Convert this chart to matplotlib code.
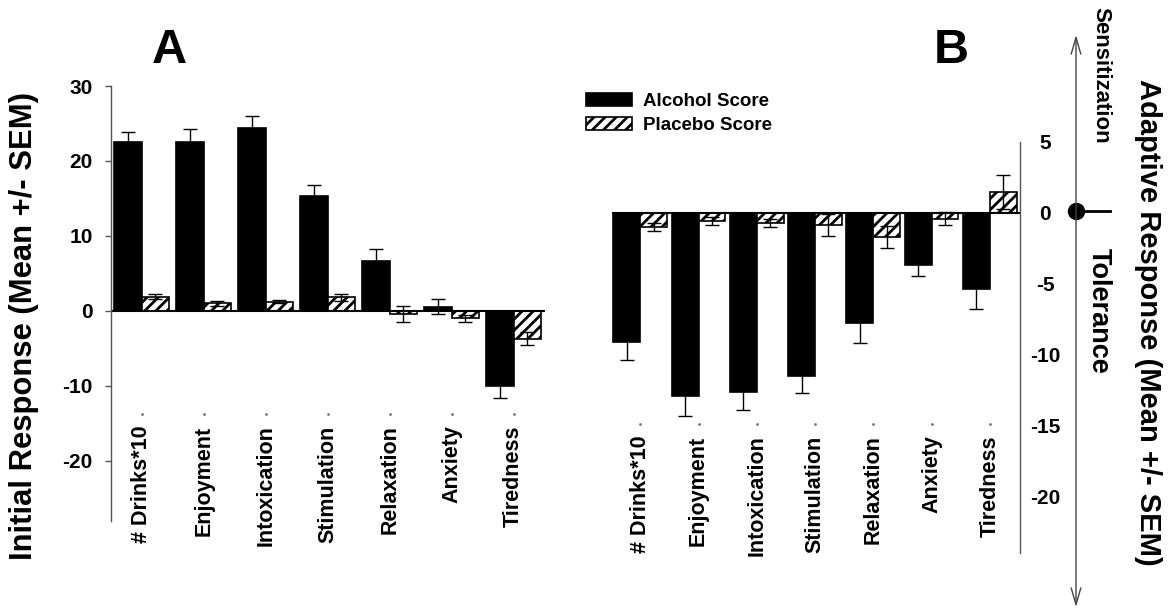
import numpy as np
import matplotlib as mpl
mpl.use('Agg')
import matplotlib.pyplot as plt

plt.rcParams['font.family'] = ['Liberation Sans', 'DejaVu Sans']
plt.rcParams['font.weight'] = 'bold'
plt.rcParams['hatch.linewidth'] = 2.0
plt.rcParams['axes.unicode_minus'] = False

categories = ['# Drinks*10', 'Enjoyment', 'Intoxication', 'Stimulation',
              'Relaxation', 'Anxiety', 'Tiredness']

# panel A - initial response
init_alcohol = [22.5, 22.5, 24.4, 15.3, 6.7, 0.55, -10.0]
init_alcohol_sem = [1.4, 1.8, 1.6, 1.5, 1.6, 1.0, 1.6]
init_placebo = [1.9, 1.0, 1.2, 1.8, -0.4, -1.0, -3.7]
init_placebo_sem = [0.3, 0.3, 0.2, 0.5, 1.1, 0.5, 0.9]

# panel B - adaptive response
adapt_alcohol = [-9.1, -12.9, -12.6, -11.5, -7.8, -3.7, -5.35]
adapt_alcohol_sem = [1.25, 1.4, 1.3, 1.2, 1.35, 0.75, 1.45]
adapt_placebo = [-1.0, -0.57, -0.7, -0.85, -1.7, -0.42, 1.48]
adapt_placebo_sem = [0.3, 0.28, 0.28, 0.77, 0.77, 0.46, 1.2]

a_ticks = [30, 20, 10, 0, -10, -20]
b_ticks = [5, 0, -5, -10, -15, -20]


def draw_panel(ax, alc, alc_err, plc, plc_err, width, dot_y, label_y):
    x = np.arange(len(categories))
    b1 = ax.bar(x - width / 2, alc, width, color='black', edgecolor='black',
                lw=1.2, label='Alcohol Score', zorder=2)
    b2 = ax.bar(x + width / 2, plc, width, color='white', edgecolor='black',
                hatch='///', lw=1.2, label='Placebo Score', zorder=2)
    ax.errorbar(x - width / 2, alc, yerr=alc_err, fmt='none', ecolor='black',
                elinewidth=1, capsize=5, capthick=1, zorder=3)
    ax.errorbar(x + width / 2, plc, yerr=plc_err, fmt='none', ecolor='black',
                elinewidth=1, capsize=5, capthick=1, zorder=3)
    ax.axhline(0, color='black', lw=1.5, zorder=2.5)
    ax.plot(x, [dot_y] * len(x), ls='none', marker='.', ms=2, color='#777777')
    for xi, name in zip(x, categories):
        ax.text(xi, label_y, name, rotation=90, ha='center', va='top',
                fontsize=15.5, fontweight='bold')
    ax.set_xticks([])
    for s in ['top', 'right', 'bottom', 'left']:
        ax.spines[s].set_visible(False)
    return b1, b2


fig = plt.figure(figsize=(11.73, 6.11), dpi=100)

# A
ax_a = fig.add_axes([0.0944, 0.1478, 0.3699, 0.7114])
draw_panel(ax_a, init_alcohol, init_alcohol_sem, init_placebo, init_placebo_sem,
           0.44, -13.7, -15.3)
ax_a.set_xlim(-0.5, 6.5)
ax_a.set_ylim(-28, 30)
ax_a.spines['left'].set_visible(True)
ax_a.spines['left'].set_color('#555555')
ax_a.spines['left'].set_linewidth(1)
ax_a.set_yticks(a_ticks)
ax_a.tick_params(axis='y', length=4.3, width=1, color='#555555', pad=8.6,
                 labelsize=15)

# B
ax_b = fig.add_axes([0.5215, 0.0944, 0.3481, 0.6737])
bars = draw_panel(ax_b, adapt_alcohol, adapt_alcohol_sem, adapt_placebo,
                  adapt_placebo_sem, 0.46, -14.9, -15.7)
ax_b.set_xlim(-0.49, 6.52)
ax_b.set_ylim(-24, 5)
ax_b.spines['right'].set_visible(True)
ax_b.spines['right'].set_color('#555555')
ax_b.spines['right'].set_linewidth(1)
ax_b.yaxis.tick_right()
ax_b.set_yticks(b_ticks)
ax_b.tick_params(axis='y', length=0, pad=18, labelsize=15)
for lab in ax_b.get_yticklabels():
    lab.set_horizontalalignment('center')

fig.legend(bars, ['Alcohol Score', 'Placebo Score'], loc='upper left',
           bbox_to_anchor=(586 / 1173, 1 - 93 / 611), frameon=False,
           fontsize=13.5, handlelength=2.45, handleheight=0.7,
           handletextpad=0.6, labelspacing=0.35, borderpad=0, borderaxespad=0)

fig.text(24 / 1173, 1 - 326 / 611, 'Initial Response (Mean +/- SEM)',
         rotation=90, ha='center', va='center', fontsize=22.3, fontweight='bold')

# overlay in pixel coordinates for the side scale and panel letters
ov = fig.add_axes([0, 0, 1, 1])
ov.set_xlim(0, 1173)
ov.set_ylim(611, 0)
ov.axis('off')
ov.patch.set_alpha(0)

ov.text(169, 63, 'A', ha='center', va='baseline', fontsize=35, fontweight='bold')
ov.text(951, 63, 'B', ha='center', va='baseline', fontsize=35, fontweight='bold')

ov.annotate('', xy=(1076, 35), xytext=(1076, 607),
            arrowprops=dict(arrowstyle='<->,head_length=1.2,head_width=0.35',
                            color='#444444', lw=1, shrinkA=0, shrinkB=0))
ov.plot([1076], [211], 'o', ms=11.5, color='black')
ov.plot([1084, 1110], [211, 211], color='black', lw=2)
ov.text(1101, 75, 'Sensitization', rotation=-90, ha='center', va='center',
        fontsize=16, fontweight='bold')
ov.text(1099, 311, 'Tolerance', rotation=-90, ha='center', va='center',
        fontsize=19.5, fontweight='bold')
ov.text(1148, 322, 'Adaptive Response (Mean +/- SEM)', rotation=-90,
        ha='center', va='center', fontsize=21, fontweight='bold')

fig.savefig('out.png', dpi=100)
